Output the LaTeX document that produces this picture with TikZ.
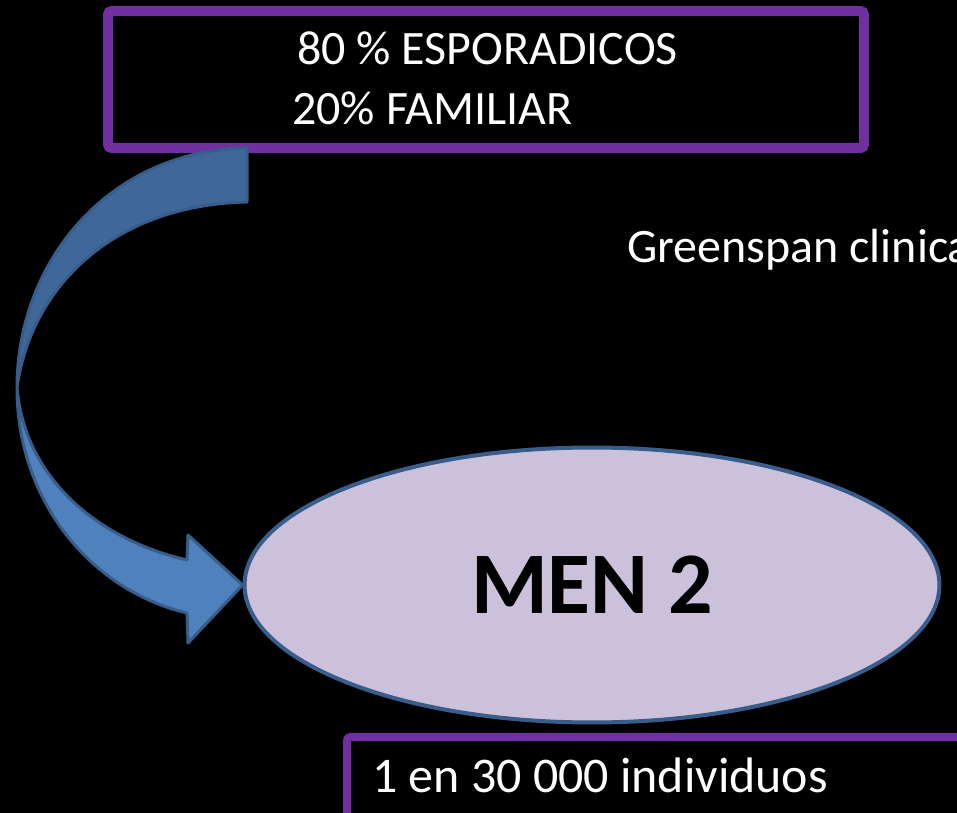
\documentclass[tikz,border=0pt]{standalone}
\usepackage{fontspec}
\setmainfont{Carlito}
\usetikzlibrary{shapes.geometric}
\definecolor{cajamorada}{RGB}{112,48,160}
\definecolor{bordeazul}{RGB}{56,93,138}
\definecolor{flechaclara}{RGB}{79,129,189}
\definecolor{flechaoscura}{RGB}{63,104,153}
\definecolor{lila}{RGB}{204,193,218}
\tikzset{
  caja/.style={draw=cajamorada, line width=0.2cm, rounded corners=2pt},
  texto/.style={text=white, inner sep=0pt, anchor=base west, font=\fontsize{27.3}{32}\selectfont},
  flecha/.style={draw=bordeazul, line width=0.06cm, line join=round}
}
\begin{document}
\begin{tikzpicture}[x=0.02cm, y=-0.02cm]
    \useasboundingbox[fill=black] (0,0) rectangle (957,813);
    \clip (0,0) rectangle (957,813);

    % Caja de arriba
    \node[caja, minimum width=15.12cm, minimum height=2.74cm] (arriba) at (486,79.5) {};
    \node[texto] (esporadicos) at (297,65) {80 \% ESPORADICOS};
    \node[texto] (familiar) at (292,125) {20\% FAMILIAR};

    % Referencia
    \node[texto] (greenspan) at (627,263) {Greenspan clinica};

    % Elipse central
    \node[draw=bordeazul, line width=0.08cm, fill=lila, ellipse, minimum width=13.9cm, minimum height=5.5cm, inner sep=0pt] (men) at (592,585) {};
    \node[inner sep=0pt, anchor=base, font=\fontsize{50}{60}\selectfont\bfseries] (mentexto) at (592,614) {MEN 2};

    % Flecha curva: parte de atras
    \fill[flechaoscura] (247,148) .. controls (110,150) and (17,260) .. (17,388)
       .. controls (30,290) and (110,205) .. (247,202) -- cycle;
    \draw[flecha] (247,148) .. controls (110,150) and (17,260) .. (17,388)
       .. controls (30,290) and (110,205) .. (247,202) -- cycle;
    % Flecha curva: parte de adelante
    \filldraw[flecha, fill=flechaclara] (17,388) .. controls (17,500) and (90,590) .. (187,613)
       -- (188,643) -- (men.west) -- (188,535) -- (187,560)
       .. controls (100,540) and (25,480) .. (17,388) -- cycle;

    % Caja de abajo
    \draw[caja, line width=0.16cm] (347,737) rectangle (1000,880);
    \node[texto, font=\fontsize{28.4}{34}\selectfont] (individuos) at (372,792) {1 en 30 000 individuos};
  \end{tikzpicture}
\end{document}
